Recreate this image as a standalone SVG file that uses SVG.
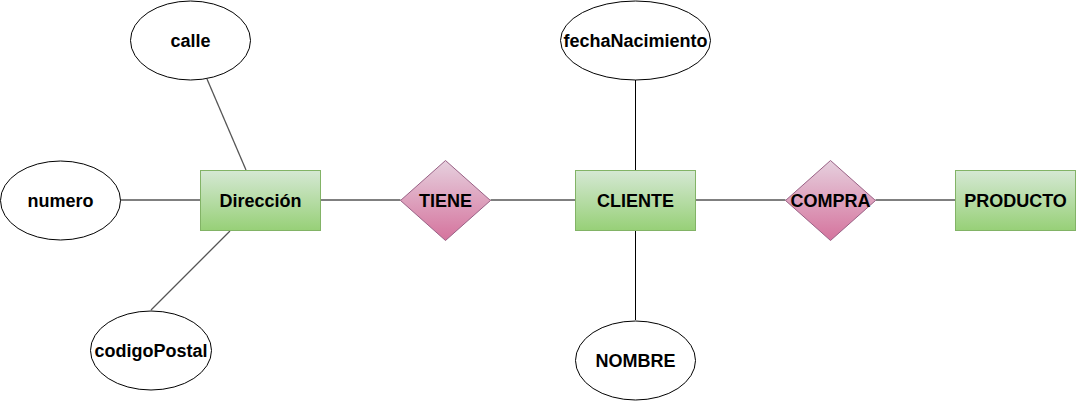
<svg xmlns="http://www.w3.org/2000/svg" width="1076" height="401" viewBox="0 0 1076 401">
<defs>
<linearGradient id="gEnt" x1="0" y1="0" x2="0" y2="1"><stop offset="0" stop-color="#d5e8d4"/><stop offset="1" stop-color="#97d077"/></linearGradient>
<linearGradient id="gRel" x1="0" y1="0" x2="0" y2="1"><stop offset="0" stop-color="#e6d0de"/><stop offset="1" stop-color="#d5739d"/></linearGradient>
<style>
.ent{fill:url(#gEnt);stroke:#82b366;stroke-width:1}
.rel{fill:url(#gRel);stroke:#996185;stroke-width:1}
.att{fill:#ffffff;stroke:#000000;stroke-width:1}
.lbl{font-family:"Liberation Sans",Arial,sans-serif;font-weight:bold;font-size:18px;fill:#000000;text-anchor:middle}
.ln{stroke:#000000;stroke-width:1;fill:none}
.lg{stroke:#555555;stroke-width:1.3;fill:none}
</style>
</defs>
<rect width="1076" height="401" fill="#ffffff"/>
<g id="connectors">
<line class="lg" x1="207" y1="79" x2="246" y2="170"/>
<line class="ln" x1="120" y1="200" x2="200" y2="200"/>
<line class="lg" x1="151" y1="310" x2="230" y2="231"/>
<line class="ln" x1="320.5" y1="200" x2="400.5" y2="200"/>
<line class="ln" x1="490.5" y1="200" x2="575.5" y2="200"/>
<line class="ln" x1="635.5" y1="80" x2="635.5" y2="170"/>
<line class="ln" x1="635.5" y1="230" x2="635.5" y2="320"/>
<line class="ln" x1="695.5" y1="200" x2="785.5" y2="200"/>
<line class="ln" x1="875.5" y1="200" x2="955.5" y2="200"/>
</g>
<g id="calle"><ellipse class="att" cx="190.5" cy="40.5" rx="60" ry="39.5"/><text class="lbl" x="190.5" y="47">calle</text></g>
<g id="numero"><ellipse class="att" cx="60.5" cy="200.5" rx="60" ry="39.5"/><text class="lbl" x="60.5" y="207">numero</text></g>
<g id="codigoPostal"><ellipse class="att" cx="151" cy="350.5" rx="60.5" ry="39.5"/><text class="lbl" x="151" y="357">codigoPostal</text></g>
<g id="direccion"><rect class="ent" x="200.5" y="170.5" width="120" height="60"/><text class="lbl" x="260.5" y="207">Dirección</text></g>
<g id="tiene"><polygon class="rel" points="445.5,160.5 490.5,200.5 445.5,240.5 400.5,200.5"/><text class="lbl" x="445.5" y="207">TIENE</text></g>
<g id="fechaNacimiento"><ellipse class="att" cx="635.5" cy="40.5" rx="75" ry="39.5"/><text class="lbl" x="635.5" y="47">fechaNacimiento</text></g>
<g id="cliente"><rect class="ent" x="575.5" y="170.5" width="120" height="60"/><text class="lbl" x="635.5" y="207">CLIENTE</text></g>
<g id="nombre"><ellipse class="att" cx="635.5" cy="360.5" rx="60" ry="39.5"/><text class="lbl" x="635.5" y="367">NOMBRE</text></g>
<g id="compra"><polygon class="rel" points="830.5,160.5 875.5,200.5 830.5,240.5 785.5,200.5"/><text class="lbl" x="830.5" y="207">COMPRA</text></g>
<g id="producto"><rect class="ent" x="955.5" y="170.5" width="120" height="60"/><text class="lbl" x="1015.5" y="207">PRODUCTO</text></g>
</svg>
